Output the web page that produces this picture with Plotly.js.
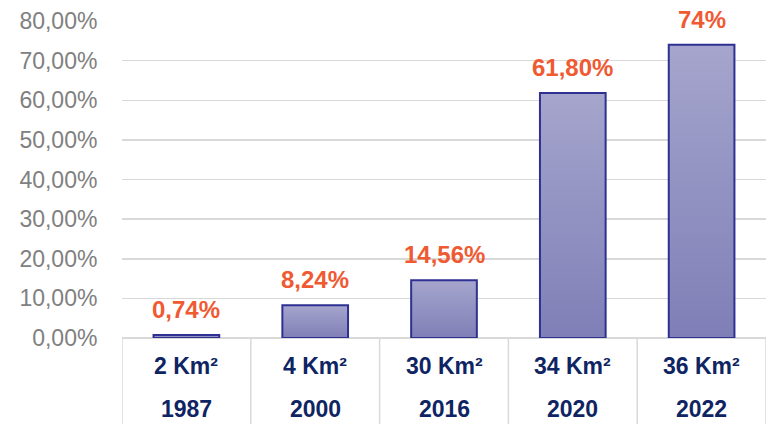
<!DOCTYPE html>
<html>
<head>
<meta charset="utf-8">
<script src="https://cdn.plot.ly/plotly-3.0.1.min.js"></script>
<style>html,body{margin:0;padding:0;background:#fff;}#chart{width:769px;height:424px;}</style>
</head>
<body>
<div id="chart"></div>
<script>
// Data
var areas = ["2 Km²", "4 Km²", "30 Km²", "34 Km²", "36 Km²"];
var years = ["1987", "2000", "2016", "2020", "2022"];
var values = [0.74, 8.24, 14.56, 61.80, 74];
var valueLabels = ["0,74%", "8,24%", "14,56%", "61,80%", "74%"];
var yTickVals = [0, 10, 20, 30, 40, 50, 60, 70, 80];
var yTickText = ["0,00%", "10,00%", "20,00%", "30,00%", "40,00%", "50,00%", "60,00%", "70,00%", "80,00%"];

var halfW = 0.255;
var traces = values.map(function (v, i) {
  return {
    type: 'scatter',
    mode: 'lines',
    x: [i - halfW, i - halfW, i + halfW, i + halfW, i - halfW],
    y: [0, v, v, 0, 0],
    fill: 'toself',
    fillgradient: {type: 'vertical', colorscale: [[0, '#7f7fb7'], [1, '#a5a5cd']]},
    line: {color: '#2f3192', width: 2},
    hoverinfo: 'skip',
    showlegend: false
  };
});

var annotations = [];
values.forEach(function (v, i) {
  annotations.push({
    x: i, y: v, xref: 'x', yref: 'y', text: valueLabels[i], showarrow: false,
    yanchor: 'bottom', yshift: 10,
    font: {family: 'Liberation Sans, Arial, sans-serif', size: 24, color: '#f05a32', weight: 'bold'}
  });
  annotations.push({
    x: i, y: -0.088, xref: 'x', yref: 'paper', text: '<b>' + areas[i] + '</b>', showarrow: false,
    yanchor: 'middle',
    font: {family: 'Liberation Sans, Arial, sans-serif', size: 23, color: '#0f2463'}
  });
  annotations.push({
    x: i, y: -0.224, xref: 'x', yref: 'paper', text: '<b>' + years[i] + '</b>', showarrow: false,
    yanchor: 'middle',
    font: {family: 'Liberation Sans, Arial, sans-serif', size: 23, color: '#0f2463'}
  });
});

var shapes = [];
for (var k = 0; k <= areas.length; k++) {
  shapes.push({
    type: 'line', xref: 'x', yref: 'paper', x0: k - 0.5, x1: k - 0.5, y0: 0, y1: -0.3,
    line: {color: '#d9d9d9', width: 1.5}
  });
}

var layout = {
  width: 769, height: 424,
  margin: {l: 122, r: 3, t: 21, b: 86},
  paper_bgcolor: '#ffffff', plot_bgcolor: '#ffffff',
  showlegend: false,
  xaxis: {
    range: [-0.5, 4.5], showgrid: false, zeroline: false, showticklabels: false,
    showline: false, fixedrange: true
  },
  yaxis: {
    range: [0, 80], tickvals: yTickVals, ticktext: yTickText,
    showgrid: true, gridcolor: '#d9d9d9', gridwidth: 1.5,
    zeroline: true, zerolinecolor: '#d9d9d9', zerolinewidth: 1.5,
    ticks: 'outside', ticklen: 19, tickcolor: 'rgba(0,0,0,0)',
    tickfont: {family: 'Liberation Sans, Arial, sans-serif', size: 23, color: '#808080'},
    fixedrange: true
  },
  annotations: annotations,
  shapes: shapes
};

Plotly.newPlot('chart', traces, layout, {displayModeBar: false, staticPlot: true});
</script>
</body>
</html>
